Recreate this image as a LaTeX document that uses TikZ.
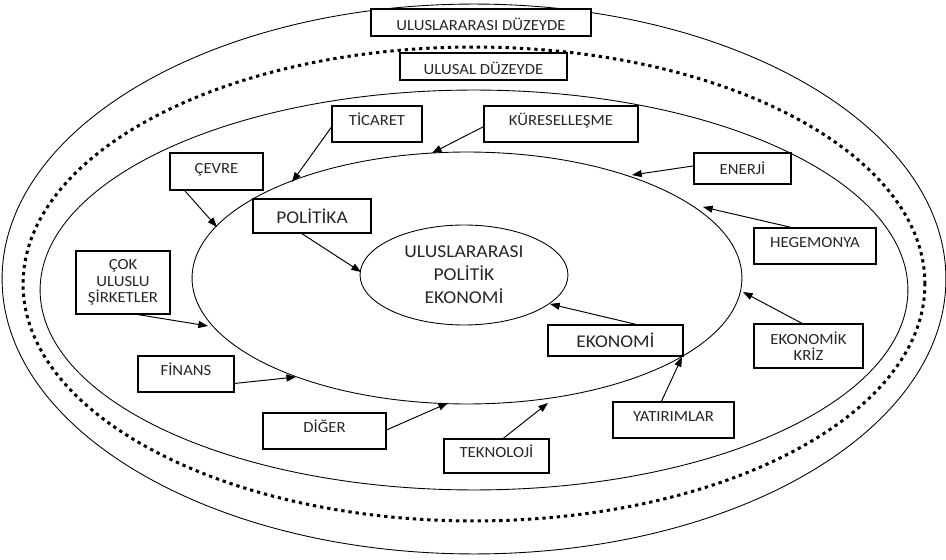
\documentclass[tikz,border=0pt]{standalone}
\usepackage{fontspec}
\setmainfont{Carlito}[FakeStretch=1.08]
\usepackage{tikz}
\usetikzlibrary{shapes.geometric}
\usetikzlibrary{arrows.meta}

\begin{document}
\begin{tikzpicture}[
            x = 0.02cm, y = -0.02cm, % one unit = one pixel
            > = {Triangle[length=5.5pt,width=4pt]}, % arrow head style
            font = \fontsize{8.8}{9.4}\selectfont,
            text = black!85
        ]

        \tikzstyle{box}=[
            draw, fill = white,
            line width = 0.7pt,
            align = center,
            inner sep = 1pt
        ]
        \tikzstyle{high}=[text height = 6pt, text depth = 4pt] % text sits a bit up
        \tikzstyle{low}=[text height = 9pt, text depth = 0pt] % text sits a bit down
        \tikzstyle{ring}=[
            draw, ellipse,
            line width = 0.5pt,
            inner sep = 0pt
        ]
        \tikzstyle{link}=[->, line width = 0.55pt]
        \tikzstyle{big}=[font = \fontsize{10.2}{12}\selectfont]

        \useasboundingbox (0,0) rectangle (946,560);

	% levels
        \node[ring, minimum width = 18.88cm, minimum height = 11cm] (world) at (474,279) {};
        \node[ring, line width = 1.7pt, dash pattern = on 1.9pt off 2.2pt,
              minimum width = 18.04cm, minimum height = 9.48cm] (border) at (474,284) {};
        \node[ring, minimum width = 17.36cm, minimum height = 8cm] (state) at (474,290) {};
        \node[ring, minimum width = 11cm, minimum height = 5.04cm] (field) at (467,278) {};
        \node[ring, minimum width = 4.16cm, minimum height = 2cm,
              align = center, font = \fontsize{10.3}{13}\selectfont] (ipe) at (464,275)
              {ULUSLARARASI\\POLİTİK\\EKONOMİ};

        \node[box, low, minimum width = 4.4cm, minimum height = 0.54cm] (intl) at (481,22.5) {ULUSLARARASI DÜZEYDE};
        \node[box, low, minimum width = 3.34cm, minimum height = 0.54cm] (natl) at (483.5,66.5) {ULUSAL DÜZEYDE};

	% factors
        \node[box, high, minimum width = 1.8cm, minimum height = 0.72cm] (ticaret) at (377,124) {TİCARET};
        \node[box, high, minimum width = 3.08cm, minimum height = 0.72cm] (kuresel) at (561,124) {KÜRESELLEŞME};
        \node[box, high, minimum width = 1.86cm, minimum height = 0.74cm] (cevre) at (216.5,171.5) {ÇEVRE};
        \node[box, minimum width = 1.94cm, minimum height = 0.62cm] (enerji) at (742.5,168.5) {ENERJİ};
        \node[box, high, minimum width = 2.44cm, minimum height = 0.72cm] (hegemonya) at (815,246) {HEGEMONYA};
        \node[box, minimum width = 1.88cm, minimum height = 1.26cm] (cok) at (123,282.5) {ÇOK\\ULUSLU\\ŞİRKETLER};
        \node[box, minimum width = 2.18cm, minimum height = 0.88cm] (kriz) at (808.5,346) {EKONOMİK\\KRİZ};
        \node[box, high, minimum width = 1.92cm, minimum height = 0.72cm] (finans) at (186,374) {FİNANS};
        \node[box, high, minimum width = 2.42cm, minimum height = 0.72cm] (yatirim) at (673.5,420) {YATIRIMLAR};
        \node[box, high, minimum width = 2.46cm, minimum height = 0.72cm] (diger) at (324.5,431) {DİĞER};
        \node[box, high, minimum width = 2.1cm, minimum height = 0.68cm] (teknoloji) at (496.5,456) {TEKNOLOJİ};

	% politics and economy
        \node[box, big, minimum width = 2.36cm, minimum height = 0.68cm] (politika) at (312,216) {POLİTİKA};
        \node[box, big, minimum width = 2.7cm, minimum height = 0.62cm] (ekonomi) at (615.5,340.5) {EKONOMİ};

	% arrow ends
        \coordinate (t-cevre) at (217,227);
        \coordinate (t-ticaret) at (292,182);
        \coordinate (t-kuresel) at (432,153);
        \coordinate (t-enerji) at (632,175);
        \coordinate (t-hegemonya) at (703,207);
        \coordinate (t-kriz) at (743,292);
        \coordinate (t-ekonomi) at (550,304);
        \coordinate (t-politika) at (361,272);
        \coordinate (t-yatirim) at (682,357);
        \coordinate (t-teknoloji) at (548,403);
        \coordinate (t-diger) at (448,403);
        \coordinate (t-finans) at (296,377);
        \coordinate (t-cok) at (208,326);

        \path[link] (cevre.211) edge (t-cevre);
        \path[link] (ticaret.184) edge (t-ticaret);
        \path[link] (kuresel.182) edge (t-kuresel);
        \path[link] (enerji.177) edge (t-enerji);
        \path[link] (hegemonya.142) edge (t-hegemonya);
        \path[link] (kriz.106) edge (t-kriz);
        \path[link] (ekonomi.38) edge (t-ekonomi);
        \path[link] (politika.240) edge (t-politika);
        \path[link] (yatirim.123) edge (t-yatirim);
        \path[link] (teknoloji.69) edge (t-teknoloji);
        \path[link] (diger.1) edge (t-diger);
        \path[link] (finans.349) edge (t-finans);
        \path[link] (cok.295) edge (t-cok);

\end{tikzpicture}
\end{document}
